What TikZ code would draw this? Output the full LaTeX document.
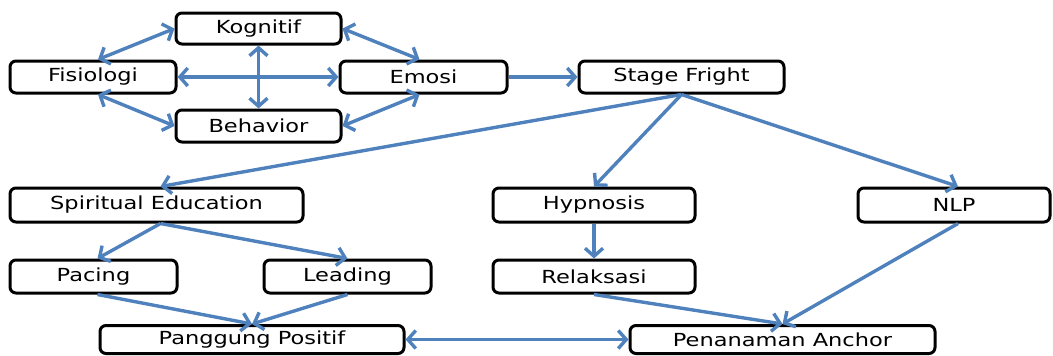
\documentclass[tikz,border=0pt]{standalone}
\usepackage{fontspec}
\setmainfont[FakeStretch=1.25]{DejaVu Sans}
\usetikzlibrary{arrows.meta}
\definecolor{arr}{RGB}{79,129,189}
\begin{document}
\begin{tikzpicture}[x=1pt,y=-1pt,
 box/.style={draw=black,line width=3pt,rounded corners=6pt,fill=white,inner sep=0pt,font=\fontsize{18}{20}\selectfont},
 link/.style={draw=arr,line width=3.4pt,-{Straight Barb[length=8pt,width=18pt]}},
 both/.style={draw=arr,line width=3.4pt,{Straight Barb[length=8pt,width=18pt]}-{Straight Barb[length=8pt,width=18pt]}}]
\useasboundingbox (0,0) rectangle (1053,356);
\node[box,minimum width=165pt,minimum height=31pt] (kog) at (258.5,28.5) {Kognitif};
\node[box,minimum width=166pt,minimum height=32pt] (fis) at (93,77) {Fisiologi};
\node[box,minimum width=167pt,minimum height=32pt] (emo) at (423.5,77) {Emosi};
\node[box,minimum width=165pt,minimum height=32pt] (beh) at (258.5,126) {Behavior};
\node[box,minimum width=205pt,minimum height=32pt] (sf) at (681.5,77) {Stage Fright};
\node[box,minimum width=293pt,minimum height=34pt] (spi) at (156.5,205) {Spiritual Education};
\node[box,minimum width=202pt,minimum height=34pt] (hyp) at (594,205) {Hypnosis};
\node[box,minimum width=192pt,minimum height=34pt] (nlp) at (954,205) {NLP};
\node[box,minimum width=167pt,minimum height=33pt] (pac) at (93.5,276.5) {Pacing};
\node[box,minimum width=167pt,minimum height=33pt] (lea) at (347.5,276.5) {Leading};
\node[box,minimum width=202pt,minimum height=33pt] (rel) at (594,276.5) {Relaksasi};
\node[box,minimum width=304pt,minimum height=28pt] (pan) at (252,339.5) {Panggung Positif};
\node[box,minimum width=305pt,minimum height=28pt] (pen) at (782.5,339.5) {Penanaman Anchor};
\draw[both] ([xshift=5pt]fis.north) -- (kog.west);
\draw[both] (kog.east) -- ([xshift=-4pt]emo.north);
\draw[both] (fis.east) -- (emo.west);
\draw[both] (kog.south) -- (beh.north);
\draw[both] ([xshift=5pt]fis.south) -- (beh.west);
\draw[both] (beh.east) -- ([xshift=-4pt]emo.south);
\draw[link] (emo.east) -- (sf.west);
\draw[link] (sf.south) -- ([xshift=4pt]spi.north);
\draw[link] (sf.south) -- (hyp.north);
\draw[link] (sf.south) -- ([xshift=4pt]nlp.north);
\draw[link] ([xshift=4pt]spi.south) -- ([xshift=4pt]pac.north);
\draw[link] ([xshift=4pt]spi.south) -- (lea.north);
\draw[link] (hyp.south) -- (rel.north);
\draw[link] ([xshift=4pt]pac.south) -- (pan.north);
\draw[link] (lea.south) -- (pan.north);
\draw[both] (pan.east) -- (pen.west);
\draw[link] (rel.south) -- (pen.north);
\draw[link] ([xshift=4pt]nlp.south) -- (pen.north);
\end{tikzpicture}
\end{document}
